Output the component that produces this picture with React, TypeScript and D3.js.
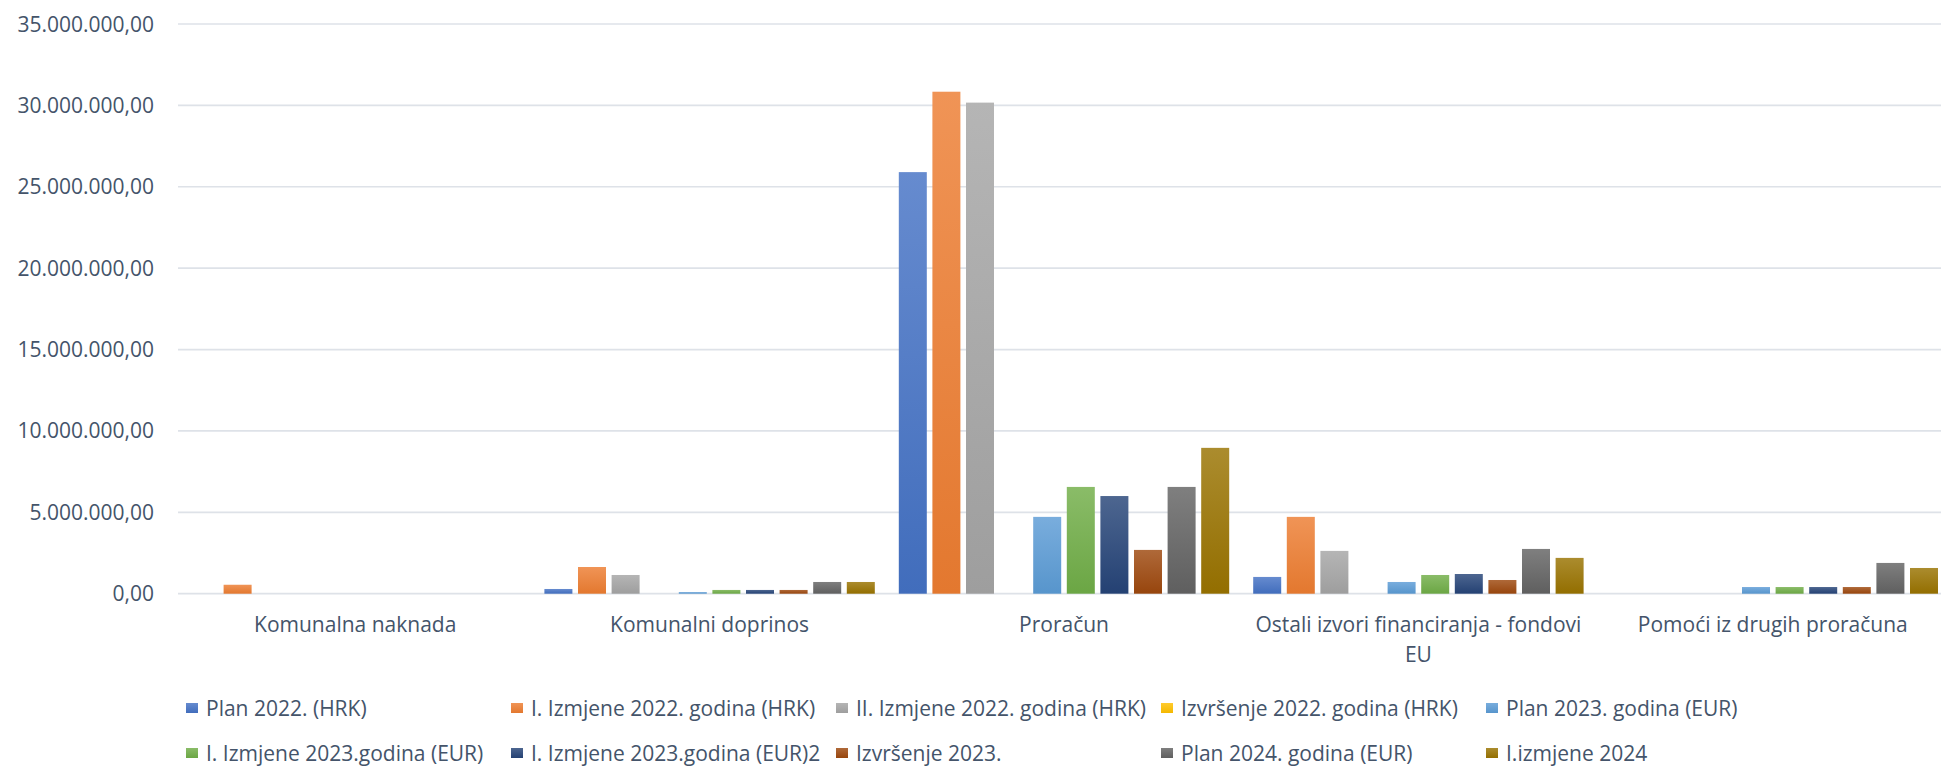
import React, { useEffect, useRef } from 'react';
import * as d3 from 'd3';

// categories on the x axis
const categories = [
  'Komunalna naknada',
  'Komunalni doprinos',
  'Proračun',
  'Ostali izvori financiranja - fondovi EU',
  'Pomoći iz drugih proračuna',
];

const seriesNames = [
  'Plan 2022. (HRK)',
  'I. Izmjene 2022. godina (HRK)',
  'II. Izmjene 2022. godina (HRK)',
  'Izvršenje 2022. godina (HRK)',
  'Plan 2023. godina (EUR)',
  'I. Izmjene 2023.godina (EUR)',
  'I. Izmjene 2023.godina (EUR)2',
  'Izvršenje 2023.',
  'Plan 2024. godina (EUR)',
  'I.izmjene 2024',
];

// values per series, one per category
const plan2022 = [0, 290000, 25900000, 1030000, 0];
const izmjene2022 = [550000, 1640000, 30840000, 4720000, 0];
const izmjene2022II = [0, 1150000, 30170000, 2630000, 0];
const izvrsenje2022 = [0, 0, 0, 0, 0];
const plan2023 = [0, 100000, 4720000, 720000, 410000];
const izmjene2023 = [0, 230000, 6560000, 1150000, 410000];
const izmjene2023b = [0, 230000, 6000000, 1210000, 410000];
const izvrsenje2023 = [0, 230000, 2690000, 842000, 410000];
const plan2024 = [0, 720000, 6560000, 2750000, 1890000];
const izmjene2024 = [0, 720000, 8960000, 2200000, 1580000];

const seriesValues = [
  plan2022,
  izmjene2022,
  izmjene2022II,
  izvrsenje2022,
  plan2023,
  izmjene2023,
  izmjene2023b,
  izvrsenje2023,
  plan2024,
  izmjene2024,
];

const seriesColors = [
  '#4472C4',
  '#ED7D31',
  '#A5A5A5',
  '#FFC000',
  '#5B9BD5',
  '#70AD47',
  '#264478',
  '#9E480E',
  '#636363',
  '#997300',
];

const yTicks = [0, 5000000, 10000000, 15000000, 20000000, 25000000, 30000000, 35000000];

const App = () => {
  const chartRef = useRef<SVGSVGElement>(null);

  useEffect(() => {
    const svg = d3.select(chartRef.current);
    svg.selectAll('*').remove();

    const font = '"Open Sans", sans-serif';
    const fontSize = 21;
    const textColor = '#44546A';
    const gridColor = '#DEE2E8';
    const plot = { left: 178, right: 1950, top: 24, bottom: 593.7 };

    const x = d3
      .scaleBand<string>()
      .domain(categories)
      .range([plot.left, plot.right])
      .paddingInner(0)
      .paddingOuter(0);

    const bw = x.bandwidth();
    const xInner = d3
      .scaleBand<number>()
      .domain(d3.range(seriesNames.length))
      .range([12, bw - 12])
      .paddingInner(5.6 / 33.6)
      .paddingOuter(0);

    const y = d3.scaleLinear().domain([0, 35000000]).range([plot.bottom, plot.top]);

    const locale = d3.formatLocale({
      decimal: ',',
      thousands: '.',
      grouping: [3],
      currency: ['', ''],
    });
    const fmt = locale.format(',.2f');

    // gradients for the bars (lighter at top)
    const defs = svg.append('defs');
    seriesColors.forEach((c, i) => {
      const g = defs
        .append('linearGradient')
        .attr('id', `grad-${i}`)
        .attr('x1', 0)
        .attr('y1', 0)
        .attr('x2', 0)
        .attr('y2', 1);
      g.append('stop')
        .attr('offset', '0%')
        .attr('stop-color', d3.interpolateRgb(c, '#ffffff')(0.18));
      g.append('stop')
        .attr('offset', '100%')
        .attr('stop-color', d3.color(c)!.darker(0.12).formatHex());
    });

    // gridlines
    svg
      .append('g')
      .selectAll('line')
      .data(yTicks)
      .join('line')
      .attr('x1', plot.left)
      .attr('x2', plot.right)
      .attr('y1', (d) => y(d))
      .attr('y2', (d) => y(d))
      .attr('stroke', gridColor)
      .attr('stroke-width', 1.7);

    // y tick labels
    svg
      .append('g')
      .selectAll('text')
      .data(yTicks)
      .join('text')
      .attr('x', 154)
      .attr('y', (d) => y(d))
      .attr('dy', '0.36em')
      .attr('text-anchor', 'end')
      .attr('font-family', font)
      .attr('font-size', fontSize)
      .attr('fill', textColor)
      .text((d) => fmt(d));

    // bars
    const groups = svg
      .append('g')
      .selectAll('g')
      .data(seriesValues)
      .join('g')
      .attr('fill', (_, i) => `url(#grad-${i})`);

    groups.each(function (vals, si) {
      d3.select(this)
        .selectAll('rect')
        .data(vals)
        .join('rect')
        .attr('x', (_, ci) => x(categories[ci])! + xInner(si)!)
        .attr('width', xInner.bandwidth())
        .attr('y', (d) => y(d))
        .attr('height', (d) => y(0) - y(d));
    });

    // category labels with wrapping
    const catLabels = svg
      .append('g')
      .selectAll('text')
      .data(categories)
      .join('text')
      .attr('x', (d) => x(d)! + bw / 2)
      .attr('y', 632)
      .attr('text-anchor', 'middle')
      .attr('font-family', font)
      .attr('font-size', fontSize)
      .attr('fill', textColor);

    catLabels.each(function (d) {
      const text = d3.select(this);
      const cx = x(d)! + bw / 2;
      const words = d.split(' ');
      let line: string[] = [];
      let tspan = text.append('tspan').attr('x', cx).attr('dy', 0);
      words.forEach((w) => {
        line.push(w);
        tspan.text(line.join(' '));
        if ((tspan.node() as SVGTSpanElement).getComputedTextLength() > bw - 10 && line.length > 1) {
          line.pop();
          tspan.text(line.join(' '));
          line = [w];
          tspan = text.append('tspan').attr('x', cx).attr('dy', 30).text(w);
        }
      });
    });

    // legend
    const legend = svg
      .append('g')
      .selectAll('g')
      .data(seriesNames)
      .join('g')
      .attr('transform', (_, i) => `translate(${186 + (i % 5) * 325},${i < 5 ? 708 : 753})`);

    legend
      .append('rect')
      .attr('x', 0)
      .attr('y', -5)
      .attr('width', 12)
      .attr('height', 10)
      .attr('fill', (_, i) => `url(#grad-${i})`);

    legend
      .append('text')
      .attr('x', 20)
      .attr('dy', '0.36em')
      .attr('font-family', font)
      .attr('font-size', fontSize)
      .attr('fill', textColor)
      .text((d) => d);
  }, []);

  return (
    <svg
      ref={chartRef}
      width={1941}
      height={766}
      style={{ position: 'absolute', left: 0, top: 0, display: 'block', background: '#fff' }}
    />
  );
};

export default App;
